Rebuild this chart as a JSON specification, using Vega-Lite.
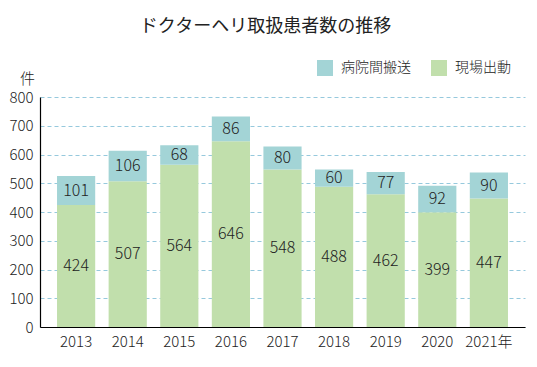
{
  "$schema": "https://vega.github.io/schema/vega-lite/v6.json",
  "autosize": "none",
  "width": 485,
  "height": 230,
  "padding": {"left": 40, "top": 97, "right": 12, "bottom": 40},
  "background": "white",
  "title": {
    "text": "ドクターヘリ取扱患者数の推移",
    "anchor": "middle",
    "frame": "group",
    "font": "Noto Sans CJK JP",
    "fontSize": 18,
    "fontWeight": "normal",
    "color": "#222222",
    "dx": -17,
    "offset": 24
  },
  "config": {
    "view": {"stroke": null},
    "font": "Noto Sans CJK JP"
  },
  "data": {
    "values": [
      {"年": "2013", "区分": "現場出動", "件数": 424, "順": 1},
      {"年": "2014", "区分": "現場出動", "件数": 507, "順": 1},
      {"年": "2015", "区分": "現場出動", "件数": 564, "順": 1},
      {"年": "2016", "区分": "現場出動", "件数": 646, "順": 1},
      {"年": "2017", "区分": "現場出動", "件数": 548, "順": 1},
      {"年": "2018", "区分": "現場出動", "件数": 488, "順": 1},
      {"年": "2019", "区分": "現場出動", "件数": 462, "順": 1},
      {"年": "2020", "区分": "現場出動", "件数": 399, "順": 1},
      {"年": "2021", "区分": "現場出動", "件数": 447, "順": 1},
      {"年": "2013", "区分": "病院間搬送", "件数": 101, "順": 2},
      {"年": "2014", "区分": "病院間搬送", "件数": 106, "順": 2},
      {"年": "2015", "区分": "病院間搬送", "件数": 68, "順": 2},
      {"年": "2016", "区分": "病院間搬送", "件数": 86, "順": 2},
      {"年": "2017", "区分": "病院間搬送", "件数": 80, "順": 2},
      {"年": "2018", "区分": "病院間搬送", "件数": 60, "順": 2},
      {"年": "2019", "区分": "病院間搬送", "件数": 77, "順": 2},
      {"年": "2020", "区分": "病院間搬送", "件数": 92, "順": 2},
      {"年": "2021", "区分": "病院間搬送", "件数": 90, "順": 2}
    ]
  },
  "transform": [
    {"stack": "件数", "groupby": ["年"], "sort": [{"field": "順", "order": "ascending"}], "as": ["y0", "y1"]},
    {"calculate": "(datum.y0 + datum.y1) / 2", "as": "ymid"}
  ],
  "encoding": {
    "x": {
      "field": "年",
      "type": "nominal",
      "scale": {"paddingInner": 0.26, "paddingOuter": 0.33},
      "axis": {
        "title": null,
        "labelAngle": 0,
        "labelFontSize": 15,
        "labelFontWeight": 300,
        "labelColor": "#222222",
        "labelPadding": 7,
        "ticks": false,
        "domainColor": "#000000",
        "domainWidth": 1.2,
        "labelExpr": "datum.value == '2021' ? '2021年' : datum.value",
        "labelFont": "Noto Sans CJK JP"
      }
    }
  },
  "layer": [
    {
      "mark": {"type": "bar"},
      "encoding": {
        "y": {
          "field": "y1",
          "type": "quantitative",
          "scale": {"domain": [0, 800], "nice": false},
          "axis": {
            "title": "件",
            "titleAngle": 0,
            "titleX": -13,
            "titleY": -19,
            "titleAlign": "center",
            "titleBaseline": "middle",
            "titleFontSize": 15,
            "titleFontWeight": 300,
            "titleColor": "#222222",
            "titleFont": "Noto Sans CJK JP",
            "values": [0, 100, 200, 300, 400, 500, 600, 700, 800],
            "labelOverlap": false,
            "labelFontSize": 15,
            "labelFontWeight": 300,
            "labelColor": "#222222",
            "labelPadding": 7,
            "labelFont": "Noto Sans CJK JP",
            "ticks": false,
            "domainColor": "#000000",
            "domainWidth": 1.2,
            "grid": true,
            "gridColor": "#96c9dd",
            "gridDash": [4, 3],
            "gridWidth": 1
          }
        },
        "y2": {"field": "y0"},
        "color": {
          "field": "区分",
          "type": "nominal",
          "scale": {"domain": ["病院間搬送", "現場出動"], "range": ["#a3d4d6", "#c1dfac"]},
          "legend": {
            "title": null,
            "orient": "none",
            "direction": "horizontal",
            "legendX": 277,
            "legendY": -37,
            "symbolType": "square",
            "symbolSize": 256,
            "symbolStrokeWidth": 0,
            "symbolOpacity": 1,
            "labelFontSize": 14,
            "labelFontWeight": 300,
            "labelColor": "#222222",
            "labelFont": "Noto Sans CJK JP",
            "labelOffset": 8,
            "columnPadding": 20
          }
        }
      }
    },
    {
      "mark": {"type": "text", "fontSize": 16, "fontWeight": 300, "color": "#222222", "baseline": "middle", "font": "Noto Sans CJK JP"},
      "encoding": {
        "y": {
          "field": "ymid",
          "type": "quantitative",
          "scale": {"domain": [0, 800], "nice": false},
          "axis": {
            "title": "件",
            "titleAngle": 0,
            "titleX": -13,
            "titleY": -19,
            "titleAlign": "center",
            "titleBaseline": "middle",
            "titleFontSize": 15,
            "titleFontWeight": 300,
            "titleColor": "#222222",
            "titleFont": "Noto Sans CJK JP",
            "values": [0, 100, 200, 300, 400, 500, 600, 700, 800],
            "labelOverlap": false,
            "labelFontSize": 15,
            "labelFontWeight": 300,
            "labelColor": "#222222",
            "labelPadding": 7,
            "labelFont": "Noto Sans CJK JP",
            "ticks": false,
            "domainColor": "#000000",
            "domainWidth": 1.2,
            "grid": true,
            "gridColor": "#96c9dd",
            "gridDash": [4, 3],
            "gridWidth": 1
          }
        },
        "text": {"field": "件数", "type": "quantitative"}
      }
    }
  ]
}
